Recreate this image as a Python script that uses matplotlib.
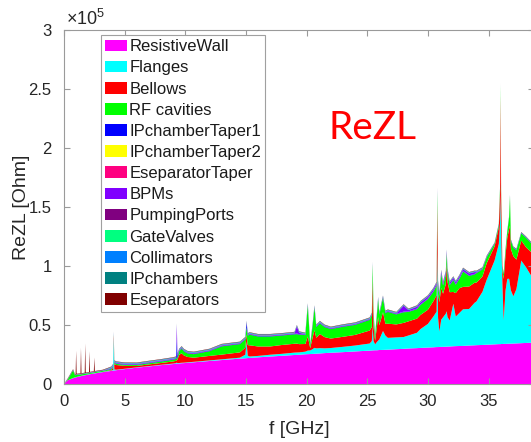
import matplotlib
matplotlib.use('Agg')
import matplotlib.pyplot as plt
import numpy as np
from matplotlib.ticker import FuncFormatter

plt.rcParams['font.family'] = ['Liberation Sans', 'DejaVu Sans']
plt.rcParams['mathtext.fontset'] = 'custom'
plt.rcParams['mathtext.rm'] = 'Liberation Sans'

## frequency grid in GHz, impedance values in units of 1e5 Ohm
freq = [
    0.0, 0.3, 0.75, 0.9, 0.96, 1.0, 1.04, 1.36, 1.4, 1.44,
    1.71, 1.75, 1.79, 2.06, 2.1, 2.14, 2.46, 2.5, 2.54, 3.2,
    3.9, 4.05, 4.1, 4.15, 4.3, 5.0, 6.0, 7.0, 8.0, 9.0,
    9.25, 9.3, 9.35, 9.5, 9.7, 9.9, 10.2, 10.7, 12.0, 13.0,
    14.5, 14.95, 15.05, 15.15, 15.3, 16.0, 17.0, 18.0, 19.0, 19.2,
    19.4, 19.9, 20.1, 20.3, 20.5, 20.65, 20.8, 21.1, 21.5, 22.0,
    23.0, 24.0, 25.2, 25.38, 25.45, 25.52, 25.65, 25.8, 25.9, 26.0,
    26.3, 26.5, 26.7, 27.4, 28.0, 28.4, 29.1, 29.4, 30.0, 30.45,
    30.72, 30.78, 30.84, 30.95, 31.1, 31.25, 31.48, 31.55, 31.62, 31.8,
    32.1, 32.3, 32.6, 32.9, 33.4, 33.85, 34.0, 34.5, 34.85, 35.5,
    35.85, 35.96, 36.0, 36.04, 36.15, 36.25, 36.4, 36.55, 36.7, 36.77,
    36.85, 37.05, 37.3, 37.7, 38.1, 38.8]

resistive_wall = [
    0.0, 0.031, 0.049, 0.054, 0.055, 0.056, 0.058, 0.066, 0.067, 0.068,
    0.074, 0.075, 0.075, 0.081, 0.082, 0.083, 0.088, 0.089, 0.090, 0.101,
    0.111, 0.114, 0.114, 0.115, 0.117, 0.126, 0.138, 0.149, 0.160, 0.169,
    0.172, 0.172, 0.172, 0.174, 0.176, 0.177, 0.180, 0.184, 0.195, 0.203,
    0.215, 0.218, 0.219, 0.220, 0.221, 0.226, 0.233, 0.239, 0.246, 0.247,
    0.248, 0.252, 0.253, 0.254, 0.255, 0.256, 0.257, 0.259, 0.262, 0.265,
    0.270, 0.276, 0.283, 0.284, 0.285, 0.285, 0.286, 0.286, 0.287, 0.288,
    0.289, 0.290, 0.291, 0.295, 0.298, 0.301, 0.304, 0.306, 0.309, 0.311,
    0.313, 0.313, 0.313, 0.314, 0.315, 0.315, 0.316, 0.317, 0.317, 0.318,
    0.320, 0.321, 0.322, 0.323, 0.326, 0.328, 0.329, 0.331, 0.333, 0.336,
    0.338, 0.338, 0.338, 0.339, 0.339, 0.340, 0.340, 0.341, 0.342, 0.342,
    0.342, 0.343, 0.344, 0.346, 0.348, 0.351]

flanges = [
    0.0, 0.0, 0.002, 0.002, 0.002, 0.002, 0.002, 0.002, 0.002, 0.002,
    0.002, 0.002, 0.002, 0.002, 0.002, 0.002, 0.002, 0.002, 0.002, 0.002,
    0.003, 0.005, 0.27, 0.008, 0.004, 0.003, 0.003, 0.003, 0.003, 0.004,
    0.005, 0.01, 0.005, 0.004, 0.004, 0.004, 0.004, 0.004, 0.005, 0.006,
    0.008, 0.03, 0.14, 0.02, 0.012, 0.012, 0.015, 0.017, 0.02, 0.02,
    0.02, 0.022, 0.03, 0.03, 0.04, 0.05, 0.045, 0.045, 0.04, 0.04,
    0.045, 0.05, 0.06, 0.08, 0.2, 0.08, 0.05, 0.07, 0.08, 0.09,
    0.16, 0.12, 0.1, 0.1, 0.1, 0.11, 0.13, 0.16, 0.2, 0.26,
    0.3, 0.8, 0.25, 0.13, 0.23, 0.25, 0.28, 0.3, 0.25, 0.22,
    0.36, 0.25, 0.28, 0.31, 0.31, 0.36, 0.37, 0.45, 0.55, 0.71,
    0.85, 1.05, 1.3, 0.95, 0.5, 0.2, 0.45, 0.55, 0.55, 0.5,
    0.45, 0.4, 0.46, 0.7, 0.64, 0.52]

bellows = [
    0.0, 0.0, 0.0, 0.0, 0.0, 0.0, 0.0, 0.0, 0.0, 0.0,
    0.0, 0.0, 0.0, 0.0, 0.0, 0.0, 0.0, 0.0, 0.0, 0.0,
    0.005, 0.02, 0.03, 0.045, 0.04, 0.025, 0.012, 0.014, 0.015, 0.018,
    0.02, 0.02, 0.03, 0.07, 0.08, 0.06, 0.045, 0.035, 0.038, 0.04,
    0.045, 0.06, 0.06, 0.09, 0.095, 0.08, 0.07, 0.075, 0.075, 0.075,
    0.07, 0.065, 0.12, 0.02, 0.1, 0.15, 0.09, 0.12, 0.095, 0.08,
    0.085, 0.09, 0.11, 0.12, 0.4, 0.12, 0.03, 0.13, 0.2, 0.12,
    0.16, 0.1, 0.12, 0.11, 0.12, 0.12, 0.12, 0.12, 0.12, 0.13,
    0.14, 0.4, 0.2, 0.25, 0.27, 0.2, 0.25, 0.4, 0.3, 0.24,
    0.1, 0.2, 0.21, 0.19, 0.19, 0.17, 0.16, 0.13, 0.14, 0.12,
    0.14, 0.25, 0.8, 0.3, 0.12, 0.35, 0.3, 0.35, 0.42, 0.5,
    0.35, 0.34, 0.25, 0.17, 0.17, 0.22]

rf_cavities = [
    0.0, 0.005, 0.065, 0.018, 0.018, 0.018, 0.017, 0.012, 0.012, 0.012,
    0.01, 0.01, 0.01, 0.008, 0.008, 0.008, 0.008, 0.008, 0.008, 0.008,
    0.008, 0.01, 0.01, 0.012, 0.01, 0.008, 0.008, 0.01, 0.012, 0.015,
    0.016, 0.02, 0.018, 0.03, 0.04, 0.035, 0.03, 0.03, 0.04, 0.07,
    0.07, 0.07, 0.06, 0.08, 0.09, 0.085, 0.085, 0.08, 0.08, 0.08,
    0.08, 0.075, 0.26, 0.02, 0.1, 0.19, 0.09, 0.09, 0.085, 0.08,
    0.085, 0.085, 0.09, 0.1, 0.13, 0.1, 0.03, 0.1, 0.15, 0.09,
    0.12, 0.09, 0.1, 0.085, 0.09, 0.08, 0.08, 0.085, 0.09, 0.08,
    0.08, 0.12, 0.08, 0.05, 0.12, 0.07, 0.08, 0.09, 0.08, 0.06,
    0.1, 0.07, 0.08, 0.13, 0.09, 0.07, 0.08, 0.06, 0.05, 0.02,
    0.02, 0.05, 0.1, 0.05, 0.03, 0.04, 0.04, 0.05, 0.1, 0.25,
    0.07, 0.07, 0.08, 0.06, 0.08, 0.07]

## thin layers, written as runs of the same value along the grid
ip_taper1 = [0.0] + [0.001] * 19 + [0.004] * 11 + [0.16, 0.01] + [0.004] * 9 + [0.04] + [0.004] * 54 + [0.003] * 19
ip_taper2 = [0.0] * 116
esep_taper = [0.0] * 20 + [0.001] * 79 + [0.0] * 17
bpms = ([0.0] + [0.001] * 19 + [0.003] * 11 + [0.12, 0.01] + [0.003] * 16 + [0.06, 0.01]
        + [0.003] * 23 + [0.05, 0.01] + [0.015] * 20 + [0.003, 0.002, 0.001] + [0.0] * 17)
pumping_ports = [0.0] + [0.001] * 19 + [0.002] * 78 + [0.001] * 18
gate_valves = [0.0] + [0.001] * 19 + [0.002] * 77 + [0.001] * 19
collimators = [0.0] + [0.001] * 19 + [0.004] * 79 + [0.003] * 17
ip_chambers = [0.0] + [0.001] * 19 + [0.002] * 78 + [0.001] * 18
eseparators = [0.0, 0.004, 0.004, 0.004, 0.004, 0.2, 0.004, 0.004, 0.22, 0.004,
               0.004, 0.25, 0.004, 0.004, 0.18, 0.004, 0.004, 0.12, 0.004, 0.004] + [0.003] * 96

names = ['ResistiveWall', 'Flanges', 'Bellows', 'RF cavities', 'IPchamberTaper1',
         'IPchamberTaper2', 'EseparatorTaper', 'BPMs', 'PumpingPorts', 'GateValves',
         'Collimators', 'IPchambers', 'Eseparators']
layers = [resistive_wall, flanges, bellows, rf_cavities, ip_taper1, ip_taper2,
          esep_taper, bpms, pumping_ports, gate_valves, collimators, ip_chambers, eseparators]
colors = ['#FF00FF', '#00FFFF', '#FF0000', '#00FF00', '#0000FF', '#FFFF00', '#FF0080',
          '#8000FF', '#800080', '#00FF80', '#0080FF', '#008080', '#800000']

W, H = 531, 442
fig = plt.figure(figsize=(W / 100, H / 100), dpi=100)
ax = fig.add_axes([64 / W, 58 / H, 470 / W, 354 / H])

ax.stackplot(freq, *[np.array(l) for l in layers], colors=colors, labels=names, linewidth=0)

ax.set_xlim(0, 38.75)
ax.set_ylim(0, 3)
ax.set_xticks(range(0, 40, 5))
ax.set_yticks([0, 0.5, 1, 1.5, 2, 2.5, 3])
ax.yaxis.set_major_formatter(FuncFormatter(lambda v, p: '%g' % v))

gray = '#9A9A9A'
for s in ax.spines.values():
    s.set_color(gray)
    s.set_linewidth(0.8)
ax.tick_params(direction='in', length=4, width=0.8, color=gray, labelcolor='#262626',
               labelsize=12, top=True, right=True)
ax.tick_params(axis='x', pad=7)
ax.tick_params(axis='y', pad=9)
ax.set_xlabel('f [GHz]', fontsize=14, color='#262626')
ax.set_ylabel('ReZL [Ohm]', fontsize=14, color='#262626')
ax.xaxis.set_label_coords((299 - 64) / 470, (384 - 429) / 354)
ax.yaxis.set_label_coords((22 - 64) / 470, 0.5)
ax.xaxis.label.set_va('center')
ax.yaxis.label.set_va('center')

fig.text(66 / W, 1 - 25 / H, r'$\times10^{5}$', fontsize=13, color='#262626', va='baseline')
fig.text(372 / W, 1 - 128 / H, 'ReZL', color='#FF0000', fontsize=28, family='Lato',
         ha='center', va='center')

leg = ax.legend(loc='upper left', bbox_to_anchor=(101 / W, 1 - 35 / H), bbox_transform=fig.transFigure,
                fontsize=12, fancybox=False, framealpha=1, edgecolor='#A0A0A0',
                borderpad=0.25, labelspacing=0.37, handlelength=1.3, handleheight=0.7,
                handletextpad=0.15, borderaxespad=0)
leg.get_frame().set_linewidth(0.8)
for t in leg.get_texts():
    t.set_color('#1A1A1A')

fig.savefig('out.png', dpi=100)
